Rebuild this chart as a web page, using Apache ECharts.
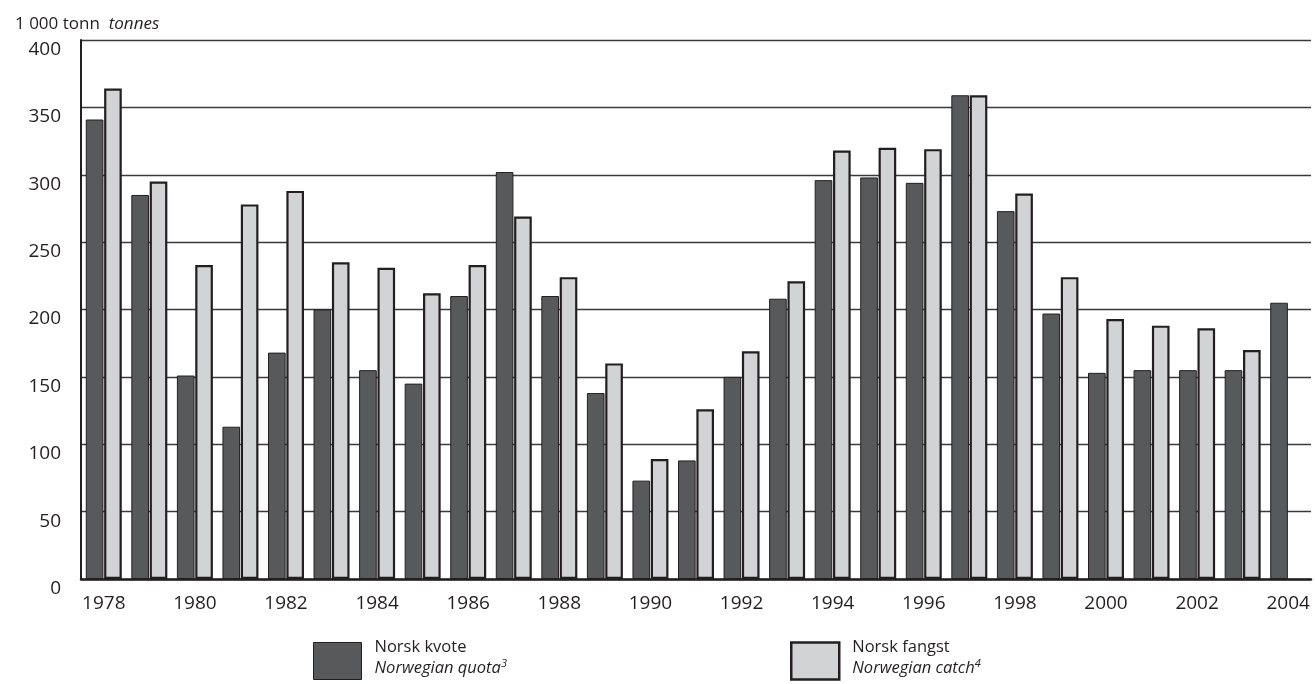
<!DOCTYPE html>
<html>
<head>
<meta charset="utf-8">
<script src="https://cdn.jsdelivr.net/npm/echarts@6/dist/echarts.min.js"></script>
<style>
html,body{margin:0;padding:0;background:#fff;}
#chart{width:1315px;height:684px;}
</style>
</head>
<body>
<div id="chart"></div>
<script>
const years = ['1978','1979','1980','1981','1982','1983','1984','1985','1986','1987','1988','1989','1990','1991','1992','1993','1994','1995','1996','1997','1998','1999','2000','2001','2002','2003','2004'];
const quota = [341, 285, 151, 113, 168, 200, 155, 145, 210, 302, 210, 138, 73, 88, 150, 208, 296, 298, 294, 359, 273, 197, 153, 155, 155, 155, 205];
const catchVals = [364, 295, 233, 278, 288, 235, 231, 212, 233, 269, 224, 160, 89, 126, 169, 221, 318, 320, 319, 359, 286, 224, 193, 188, 186, 170, null];
const yTicks = [0, 50, 100, 150, 200, 250, 300, 350, 400];

const FONT = '"Open Sans", "DejaVu Sans", sans-serif';
const chart = echarts.init(document.getElementById('chart'), null, {renderer: 'canvas'});

const legendRich = {
  a: {fontFamily: FONT, fontSize: 16.5, color: '#231f20', lineHeight: 21},
  b: {fontFamily: FONT, fontSize: 16.5, fontStyle: 'italic', color: '#231f20', lineHeight: 21},
  s: {fontFamily: FONT, fontSize: 11, fontStyle: 'italic', color: '#231f20', lineHeight: 21, verticalAlign: 'top', padding: [0,0,6,0]}
};

chart.setOption({
  animation: false,
  backgroundColor: '#ffffff',
  title: {
    text: '{n|1 000 tonn  }{i|tonnes}',
    left: 10, top: 11,
    textStyle: {
      fontWeight: 'normal',
      rich: {
        n: {fontFamily: FONT, fontSize: 17, fontWeight: 'normal', color: '#231f20'},
        i: {fontFamily: FONT, fontSize: 17, fontWeight: 'normal', fontStyle: 'italic', color: '#231f20'}
      }
    }
  },
  grid: {left: 81, right: 4, top: 40, bottom: 105, containLabel: false},
  legend: [
    {
      data: [{name: 'quota', icon: 'rect'}], left: 308, top: 634, itemWidth: 48, itemHeight: 37, itemGap: 0,
      selectedMode: false,
      itemStyle: {borderColor: '#231f20', borderWidth: 1},
      formatter: () => '{a|Norsk kvote}\n{b|Norwegian quota}{s|3}',
      textStyle: {rich: legendRich, padding: [0,0,6,8]}
    },
    {
      data: [{name: 'catch', icon: 'rect'}], left: 785, top: 634, itemWidth: 48, itemHeight: 37, itemGap: 0,
      selectedMode: false,
      itemStyle: {borderColor: '#231f20', borderWidth: 2.5},
      formatter: () => '{a|Norsk fangst}\n{b|Norwegian catch}{s|4}',
      textStyle: {rich: legendRich, padding: [0,0,6,8]}
    }
  ],
  xAxis: {
    type: 'category',
    data: years,
    axisLine: {show: true, lineStyle: {color: '#231f20', width: 2.5}},
    axisTick: {show: false},
    axisLabel: {interval: 1, fontFamily: FONT, fontSize: 19, color: '#231f20', margin: 15}
  },
  yAxis: {
    type: 'value',
    min: yTicks[0], max: yTicks[yTicks.length - 1], interval: 50,
    axisLine: {show: true, lineStyle: {color: '#231f20', width: 2}},
    axisTick: {show: false},
    axisLabel: {fontFamily: FONT, fontSize: 19, color: '#231f20', margin: 20, verticalAlign: 'top'},
    splitLine: {show: true, lineStyle: {color: '#3a3a3a', width: 1.3}}
  },
  series: [
    {
      name: 'quota', type: 'bar', data: quota,
      barCategoryGap: '21%', barGap: '4%',
      itemStyle: {color: '#58595b', borderColor: '#231f20', borderWidth: 1}
    },
    {
      name: 'catch', type: 'bar', data: catchVals,
      itemStyle: {color: '#d1d3d4', borderColor: '#231f20', borderWidth: 2.2}
    }
  ]
});
</script>
</body>
</html>
